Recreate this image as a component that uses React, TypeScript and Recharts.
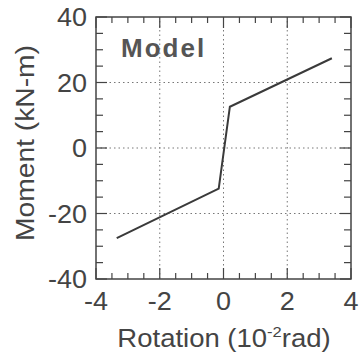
import { LineChart, Line, XAxis, YAxis, ReferenceLine, ReferenceArea } from "recharts";

// values
const rotation = [-3.35, -0.15, 0.2, 3.4];
const moment = [-27.5, -12.4, 12.6, 27.4];

const xTicks = [-4, -3.5, -3, -2.5, -2, -1.5, -1, -0.5, 0, 0.5, 1, 1.5, 2, 2.5, 3, 3.5, 4];
const yTicks = [-40, -35, -30, -25, -20, -15, -10, -5, 0, 5, 10, 15, 20, 25, 30, 35, 40];
const gridX = [-2, 0, 2];
const gridY = [-20, 0, 20];

const data = rotation.map((r, i) => ({ r, m: moment[i] }));

const ink = "#444";
const font = "'Liberation Sans', Arial, sans-serif";

// plot box size in px, used to mirror ticks onto top/right edges
const PLOT_W = 255;
const PLOT_H = 262;

// the scanned figure has slightly stretched lettering
const Wide = ({ x, y, size, sx = 1, anchor = "start", rotate = 0, weight, spacing, fill = ink, children }: any) => (
  <text
    transform={`translate(${x},${y}) rotate(${rotate}) scale(${sx},1)`}
    textAnchor={anchor}
    fontSize={size}
    fontWeight={weight}
    letterSpacing={spacing}
    fill={fill}
    fontFamily={font}
  >
    {children}
  </text>
);

// inward ticks on bottom and top, major ones get a label
const BottomTick = ({ x, y, payload }: any) => {
  const major = payload.value % 2 === 0;
  const len = major ? 11 : 6;
  return (
    <g>
      <line x1={x} x2={x} y1={y} y2={y - len} stroke={ink} strokeWidth={1.2} />
      <line x1={x} x2={x} y1={y - PLOT_H} y2={y - PLOT_H + len} stroke={ink} strokeWidth={1.2} />
      {major && (
        <Wide x={x} y={y + 31} size={25} sx={1.08} anchor="middle">
          {payload.value}
        </Wide>
      )}
    </g>
  );
};

const LeftTick = ({ x, y, payload }: any) => {
  const major = payload.value % 20 === 0;
  const len = major ? 11 : 7;
  return (
    <g>
      <line x1={x} x2={x + len} y1={y} y2={y} stroke={ink} strokeWidth={1.2} />
      <line x1={x + PLOT_W} x2={x + PLOT_W - len} y1={y} y2={y} stroke={ink} strokeWidth={1.2} />
      {major && (
        <Wide x={x - 9} y={y + 9} size={25} sx={1.08} anchor="end">
          {payload.value}
        </Wide>
      )}
    </g>
  );
};

export default function App() {
  return (
    <div style={{ position: "absolute", left: 0, top: 0, background: "#fff" }}>
      <LineChart width={361} height={361} data={data} margin={{ top: 17, right: 10, bottom: 0, left: 0 }}>
        <XAxis
          type="number"
          dataKey="r"
          domain={[-4, 4]}
          ticks={xTicks}
          interval={0}
          height={82}
          tickSize={0}
          tickMargin={0}
          tickLine={false}
          tick={BottomTick}
          axisLine={false}
          label={{
            content: () => (
              <Wide x={224} y={347} size={25} sx={1.1} anchor="middle">
                Rotation (10
                <tspan dy={-10} fontSize={15}>-2</tspan>
                <tspan dy={10}>rad)</tspan>
              </Wide>
            ),
          }}
        />
        <YAxis
          type="number"
          domain={[-40, 40]}
          ticks={yTicks}
          interval={0}
          width={96}
          tickSize={0}
          tickMargin={0}
          tickLine={false}
          tick={LeftTick}
          axisLine={false}
          label={{
            content: () => (
              <Wide x={34} y={143} rotate={-90} size={25} sx={1.13} anchor="middle">
                Moment (kN-m)
              </Wide>
            ),
          }}
        />
        <ReferenceArea x1={-4} x2={4} y1={-40} y2={40} fill="none" stroke={ink} strokeWidth={1.5} />
        {gridX.map((v) => (
          <ReferenceLine key={`gx${v}`} x={v} stroke="#777" strokeDasharray="1.5 3" />
        ))}
        {gridY.map((v) => (
          <ReferenceLine key={`gy${v}`} y={v} stroke="#777" strokeDasharray="1.5 3" />
        ))}
        <ReferenceLine
          x={-4}
          stroke="none"
          label={{
            content: () => (
              <Wide x={121} y={56.5} size={26} weight="bold" spacing={2} fill="#555">
                Model
              </Wide>
            ),
          }}
        />
        <Line type="linear" dataKey="m" stroke="#3a3a3a" strokeWidth={2} dot={false} isAnimationActive={false} />
      </LineChart>
    </div>
  );
}
